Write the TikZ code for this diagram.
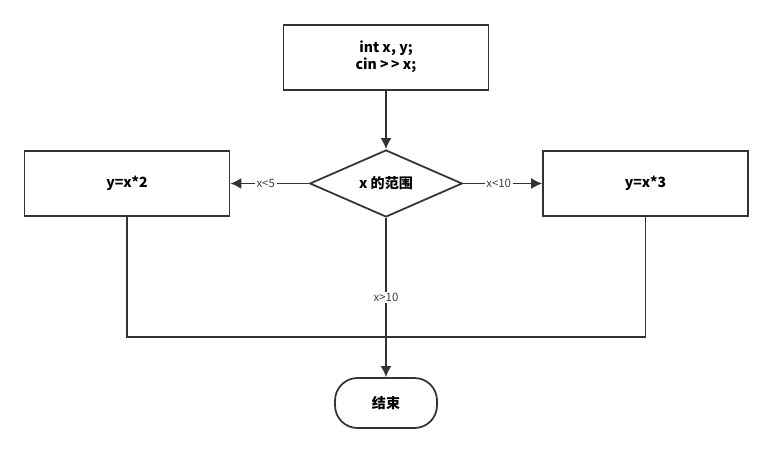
\documentclass[tikz,border=0pt]{standalone}
\usepackage{fontspec}
\setmainfont{Noto Sans CJK SC}
\usetikzlibrary{shapes.geometric, arrows.meta, positioning}
\tikzset{
  stepbox/.style={rectangle, draw=black!80, line width=1pt, minimum width=4.1cm, minimum height=1.3cm, font=\footnotesize\bfseries},
  decision/.style={diamond, draw=black!80, line width=1pt, aspect=2.3, minimum width=3.05cm, minimum height=1.34cm, inner sep=0pt, font=\footnotesize\bfseries},
  terminal/.style={rectangle, rounded corners=0.45cm, draw=black!80, line width=1pt, minimum width=2.04cm, minimum height=1cm, font=\footnotesize\bfseries},
  flow/.style={draw=black!80, line width=1pt, -{Latex[length=2.2mm, width=2.2mm]}},
  edgelabel/.style={font=\fontsize{6.5}{7}\selectfont, text=black!75, fill=white, inner sep=1pt},
}
\begin{document}
\begin{tikzpicture}[x=0.02cm, y=-0.02cm]
\useasboundingbox (0,0) rectangle (773,453);
\node[stepbox] (init) at (386,57.5) {\begin{tabular}{@{}c@{}}int x, y;\\cin {>}\,{>} x;\end{tabular}};
\node[decision] (range) at (386,183.5) {x 的范围};
\node[stepbox] (twice) at (127,183.5) {y=x*2};
\node[stepbox] (thrice) at (645.5,183.5) {y=x*3};
\node[terminal] (stop) at (386,403) {结束};
\coordinate (joinL) at (127,337);
\coordinate (joinR) at (645.5,337);
\draw[flow] (init) -- (range);
\draw[flow] (range) -- node[edgelabel, pos=0.55] {x<5} (twice);
\draw[flow] (range) -- node[edgelabel, pos=0.45] {x<10} (thrice);
\draw[flow] (range) -- node[edgelabel, pos=0.5] {x>10} (stop);
\draw[line width=1pt, draw=black!80] (twice) -- (joinL) -- (joinR) -- (thrice);
\end{tikzpicture}
\end{document}
